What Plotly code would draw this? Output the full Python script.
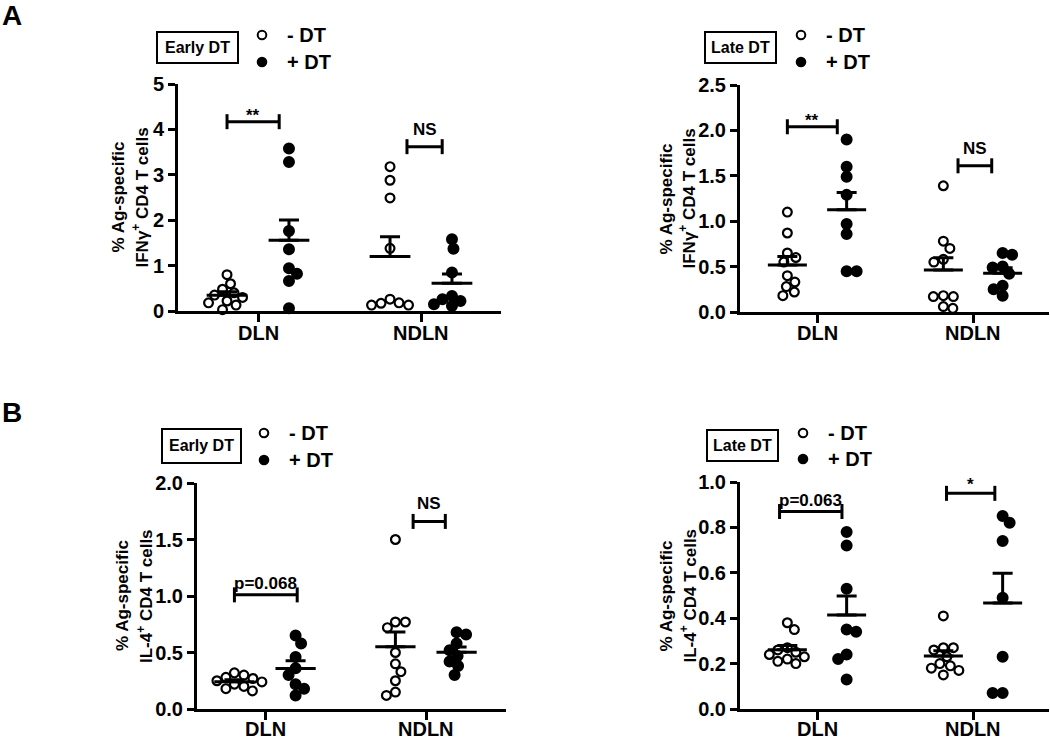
import math
import plotly.graph_objects as go

FONT = "Liberation Sans"
W, H = 1050, 740

# ---------------- data ----------------
groups = ["DLN", "NDLN"]

# A, Early DT, IFNγ+
ifng_early_minus_dln = [0.80, 0.60, 0.48, 0.40, 0.35, 0.30, 0.22, 0.18, 0.13, 0.03]
ifng_early_plus_dln = [3.58, 3.28, 1.76, 1.36, 0.94, 0.82, 0.66, 0.06]
ifng_early_minus_ndln = [3.18, 2.88, 2.49, 1.38, 0.26, 0.18, 0.17, 0.13, 0.13]
ifng_early_plus_ndln = [1.58, 1.37, 0.85, 0.33, 0.26, 0.22, 0.15, 0.11]

# A, Late DT, IFNγ+
ifng_late_minus_dln = [1.10, 0.87, 0.65, 0.60, 0.55, 0.40, 0.33, 0.28, 0.22, 0.18]
ifng_late_plus_dln = [1.90, 1.60, 1.49, 1.29, 0.97, 0.86, 0.45, 0.45]
ifng_late_minus_ndln = [1.39, 0.78, 0.70, 0.58, 0.55, 0.18, 0.17, 0.17, 0.06, 0.04]
ifng_late_plus_ndln = [0.65, 0.63, 0.50, 0.49, 0.42, 0.29, 0.25, 0.18]

# B, Early DT, IL-4+
il4_early_minus_dln = [0.32, 0.30, 0.28, 0.27, 0.25, 0.24, 0.22, 0.20, 0.18, 0.16]
il4_early_plus_dln = [0.65, 0.58, 0.46, 0.36, 0.30, 0.22, 0.18, 0.12]
il4_early_minus_ndln = [1.50, 0.77, 0.77, 0.72, 0.50, 0.40, 0.33, 0.25, 0.15, 0.12]
il4_early_plus_ndln = [0.68, 0.66, 0.58, 0.52, 0.47, 0.42, 0.38, 0.30]

# B, Late DT, IL-4+
il4_late_minus_dln = [0.38, 0.35, 0.27, 0.26, 0.25, 0.24, 0.23, 0.22, 0.21, 0.20]
il4_late_plus_dln = [0.78, 0.72, 0.53, 0.35, 0.34, 0.24, 0.22, 0.13]
il4_late_minus_ndln = [0.41, 0.27, 0.27, 0.26, 0.23, 0.20, 0.19, 0.18, 0.17, 0.15]
il4_late_plus_ndln = [0.85, 0.82, 0.74, 0.49, 0.23, 0.07, 0.07]

# tick labels
yticks_ifng_early = [0, 1, 2, 3, 4, 5]
yticks_ifng_late = [0.0, 0.5, 1.0, 1.5, 2.0, 2.5]
yticks_il4_early = [0.0, 0.5, 1.0, 1.5, 2.0]
yticks_il4_late = [0.0, 0.2, 0.4, 0.6, 0.8, 1.0]

# significance labels: (label, group index, left offset, right offset, level)
sig_ifng_early = [("**", 0, -0.19, 0.13, 4.17), ("NS", 1, -0.086, 0.13, 3.62)]
sig_ifng_late = [("**", 0, -0.19, 0.13, 2.04), ("NS", 1, -0.096, 0.12, 1.61)]
sig_il4_early = [("p=0.068", 0, -0.19, 0.20, 1.01), ("NS", 1, -0.08, 0.12, 1.66)]
sig_il4_late = [("p=0.063", 0, -0.24, 0.16, 0.87), ("*", 1, -0.17, 0.14, 0.95)]

# ---------------- layout config ----------------
panels = [
    dict(n=1, xpx=(178, 501), xr=(-0.4908, 1.4908), ypx=(311, 84), yr=(0, 5),
         yt=yticks_ifng_early, fmt="{:.0f}",
         data=[ifng_early_minus_dln, ifng_early_plus_dln, ifng_early_minus_ndln, ifng_early_plus_ndln],
         sig=sig_ifng_early, t1x=118, t2x=140, line2="IFNγ<sup>+</sup> CD4 T cells",
         box=(157, 32, 238, 63), boxtext="Early DT", mk=262, tx=285, ly=(35, 62), cy=22),
    dict(n=2, xpx=(740, 1049), xr=(-0.4936, 1.4872), ypx=(312, 85), yr=(0, 2.5),
         yt=yticks_ifng_late, fmt="{:.1f}",
         data=[ifng_late_minus_dln, ifng_late_plus_dln, ifng_late_minus_ndln, ifng_late_plus_ndln],
         sig=sig_ifng_late, t1x=666, t2x=688, line2="IFNγ<sup>+</sup> CD4 T cells",
         box=(705, 32, 776, 63), boxtext="Late DT", mk=801, tx=824, ly=(35, 62), cy=21),
    dict(n=3, xpx=(197, 506), xr=(-0.4224, 1.4969), ypx=(709, 483), yr=(0, 2.0),
         yt=yticks_il4_early, fmt="{:.1f}",
         data=[il4_early_minus_dln, il4_early_plus_dln, il4_early_minus_ndln, il4_early_plus_ndln],
         sig=sig_il4_early, t1x=122, t2x=145, line2="IL-4<sup>+</sup> CD4 T cells",
         box=(162, 429, 241, 463), boxtext="Early DT", mk=264, tx=287, ly=(433, 460), cy=20),
    dict(n=4, xpx=(740, 1049), xr=(-0.4936, 1.4872), ypx=(709, 482), yr=(0, 1.0),
         yt=yticks_il4_late, fmt="{:.1f}",
         data=[il4_late_minus_dln, il4_late_plus_dln, il4_late_minus_ndln, il4_late_plus_ndln],
         sig=sig_il4_late, t1x=666, t2x=688, line2="IL-4<sup>+</sup> CD4 T cells",
         box=(707, 430, 778, 461), boxtext="Late DT", mk=803, tx=826, ly=(433, 459), cy=20),
]

GROUP_OFF = 0.19
MEAN_HALF = 0.125
LABEL_SHIFT = {"**": -5, "*": -3, "NS": 6, "p=0.068": 0, "p=0.063": 0}


def pxx(x):
    return x / W


def pyy(y):
    return 1 - y / H


def swarm(vals, xs, ys, d=9.6, step=0.5):
    idx = sorted(range(len(vals)), key=lambda i: -vals[i])
    placed = []
    out = [0.0] * len(vals)
    flip = 1
    for i in idx:
        y = vals[i] * ys
        k = 0
        while True:
            cands = [0.0] if k == 0 else [flip * k * step, -flip * k * step]
            ok = None
            for x in cands:
                if all((x - px) ** 2 + (y - py) ** 2 >= d * d for px, py in placed):
                    ok = x
                    break
            if ok is not None:
                break
            k += 1
        if ok != 0:
            flip = -1 if ok > 0 else 1
        placed.append((ok, y))
        out[i] = ok / xs
    return out


fig = go.Figure()
shapes = []
annotations = []
layout_axes = {}

for p in panels:
    n = p["n"]
    xa = "x" if n == 1 else f"x{n}"
    ya = "y" if n == 1 else f"y{n}"
    xs = (p["xpx"][1] - p["xpx"][0]) / (p["xr"][1] - p["xr"][0])
    ys = (p["ypx"][0] - p["ypx"][1]) / (p["yr"][1] - p["yr"][0])

    for gi, vals in enumerate(p["data"]):
        cat = gi // 2
        filled = gi % 2 == 1
        c = cat + (GROUP_OFF if filled else -GROUP_OFF)
        offs = swarm(vals, xs, ys)
        fig.add_trace(go.Scatter(
            x=[c + o for o in offs], y=vals, xaxis=xa, yaxis=ya, mode="markers",
            marker=dict(symbol="circle" if filled else "circle-open",
                        size=9.8 if filled else 8.8, color="black",
                        line=dict(width=2.2, color="black")),
            cliponaxis=False, showlegend=False, hoverinfo="skip"))
        m = sum(vals) / len(vals)
        sd = math.sqrt(sum((v - m) ** 2 for v in vals) / (len(vals) - 1))
        sem = sd / math.sqrt(len(vals))
        fig.add_trace(go.Scatter(
            x=[c - MEAN_HALF, c + MEAN_HALF], y=[m, m], xaxis=xa, yaxis=ya, mode="lines",
            line=dict(color="black", width=3), cliponaxis=False, showlegend=False,
            hoverinfo="skip"))
        fig.add_trace(go.Scatter(
            x=[c], y=[m], xaxis=xa, yaxis=ya, mode="markers",
            marker=dict(size=1, color="rgba(0,0,0,0)"),
            error_y=dict(type="data", symmetric=False, array=[sem], arrayminus=[0],
                         thickness=3, width=10, color="black"),
            cliponaxis=False, showlegend=False, hoverinfo="skip"))

    # axes
    xd = [pxx(p["xpx"][0]), pxx(p["xpx"][1])]
    yd = [pyy(p["ypx"][0]), pyy(p["ypx"][1])]
    common = dict(showline=True, linewidth=3, linecolor="black", ticks="outside",
                  tickwidth=3, tickcolor="black", showgrid=False, zeroline=False,
                  fixedrange=True, automargin=False)
    layout_axes["xaxis" if n == 1 else f"xaxis{n}"] = dict(
        common, domain=xd, range=list(p["xr"]), anchor=ya, tickvals=[0, 1],
        showticklabels=False, ticklen=8)
    layout_axes["yaxis" if n == 1 else f"yaxis{n}"] = dict(
        common, domain=yd, range=list(p["yr"]), anchor=xa, tickvals=p["yt"],
        ticktext=[f"<b>{p['fmt'].format(v)}</b>" for v in p["yt"]], ticklen=7,
        tickfont=dict(family=FONT, size=20, color="black"))

    # category labels
    for gi, g in enumerate(groups):
        annotations.append(dict(x=gi, y=p["yr"][0], xref=xa, yref=ya, text=f"<b>{g}</b>",
                                showarrow=False, xanchor="center", yanchor="middle",
                                yshift=-p["cy"],
                                font=dict(family=FONT, size=20, color="black")))

    # axis titles
    ymid = (p["ypx"][0] + p["ypx"][1]) / 2
    for tx, txt in ((p["t1x"], "% Ag-specific"), (p["t2x"], p["line2"])):
        annotations.append(dict(x=pxx(tx), y=pyy(ymid), xref="paper", yref="paper",
                                text=f"<b>{txt}</b>", textangle=-90, showarrow=False,
                                xanchor="center", yanchor="middle",
                                font=dict(family=FONT, size=17, color="black")))

    # significance brackets
    hh = 7.5 / ys
    for lab, g, a0, a1, lev in p["sig"]:
        x0, x1 = g + a0, g + a1
        for (sx0, sy0, sx1, sy1) in ((x0, lev, x1, lev), (x0, lev - hh, x0, lev + hh),
                                     (x1, lev - hh, x1, lev + hh)):
            shapes.append(dict(type="line", xref=xa, yref=ya, x0=sx0, y0=sy0, x1=sx1, y1=sy1,
                               line=dict(color="black", width=3)))
        annotations.append(dict(x=(x0 + x1) / 2, y=lev, xref=xa, yref=ya,
                                text=f"<b>{lab}</b>", showarrow=False, xanchor="center",
                                yanchor="bottom", yshift=LABEL_SHIFT.get(lab, 5),
                                font=dict(family=FONT, size=17, color="black")))

    # legend
    bx0, by0, bx1, by1 = p["box"]
    shapes.append(dict(type="rect", xref="paper", yref="paper", x0=pxx(bx0), y0=pyy(by1),
                       x1=pxx(bx1), y1=pyy(by0), line=dict(color="black", width=2)))
    annotations.append(dict(x=pxx((bx0 + bx1) / 2), y=pyy((by0 + by1) / 2), xref="paper",
                            yref="paper", text=f"<b>{p['boxtext']}</b>", showarrow=False,
                            xanchor="center", yanchor="middle",
                            font=dict(family=FONT, size=16, color="black")))
    r = 4.3
    for k, (ly, lab) in enumerate(zip(p["ly"], ["- DT", "+ DT"])):
        shapes.append(dict(type="circle", xref="paper", yref="paper",
                           x0=pxx(p["mk"] - r), x1=pxx(p["mk"] + r),
                           y0=pyy(ly + r), y1=pyy(ly - r),
                           line=dict(color="black", width=2),
                           fillcolor="black" if k == 1 else "rgba(0,0,0,0)"))
        annotations.append(dict(x=pxx(p["tx"]), y=pyy(ly), xref="paper", yref="paper",
                                text=f"<b>{lab}</b>", showarrow=False, xanchor="left",
                                yanchor="middle",
                                font=dict(family=FONT, size=20, color="black")))

# panel letters
for lab, x, y in (("A", 12, 15), ("B", 12, 412)):
    annotations.append(dict(x=pxx(x), y=pyy(y), xref="paper", yref="paper",
                            text=f"<b>{lab}</b>", showarrow=False, xanchor="center",
                            yanchor="middle", font=dict(family=FONT, size=28, color="black")))

fig.update_layout(
    template="none",
    width=W, height=H, autosize=False,
    margin=dict(l=0, r=0, t=0, b=0, pad=0),
    paper_bgcolor="white", plot_bgcolor="white",
    shapes=shapes, annotations=annotations,
    font=dict(family=FONT, color="black"),
    **layout_axes,
)

fig.write_html("out.html", config={"responsive": False, "displayModeBar": False},
               post_script="document.body.style.margin='0';document.body.style.overflow='hidden';")
